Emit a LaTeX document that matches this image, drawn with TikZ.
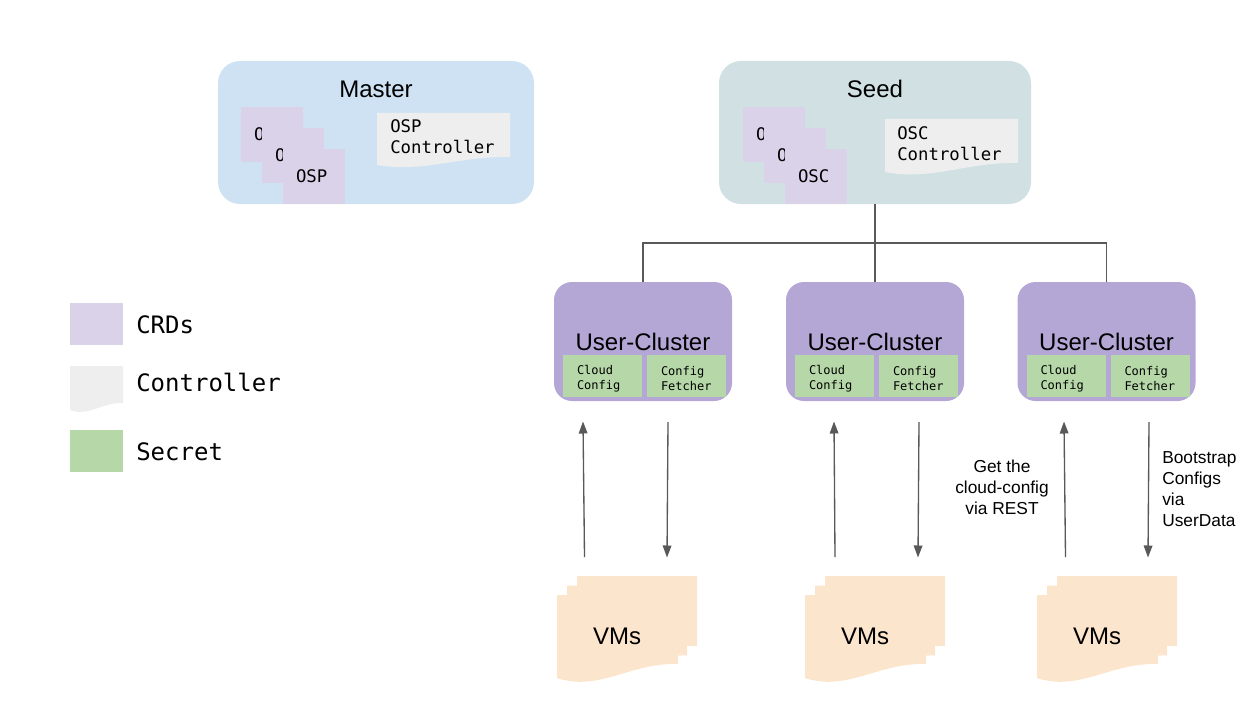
\documentclass[tikz,border=0pt]{standalone}
\usepackage{fontspec}
\setmainfont{Liberation Sans}
\newfontfamily\monof{DejaVu Sans Mono}
\usetikzlibrary{arrows.meta,calc}
\definecolor{masterbg}{HTML}{CFE2F3}
\definecolor{seedbg}{HTML}{D0E0E3}
\definecolor{crd}{HTML}{D9D2E9}
\definecolor{ctrl}{HTML}{EEEEEE}
\definecolor{ucbg}{HTML}{B4A7D6}
\definecolor{secret}{HTML}{B6D7A8}
\definecolor{vmbg}{HTML}{FCE5CD}
\definecolor{connc}{HTML}{595959}
% x y w hl hr fill  (document sheet with wavy bottom)
\newcommand\docsheet[6]{\fill[#6] (#1,#2) -- (#1+#3,#2) -- (#1+#3,#2+#5) .. controls (#1+0.6*#3,#2+1.1*#5-0.1*#4) and (#1+0.35*#3,#2+2*#4-#5) .. (#1,#2+#4) -- cycle;}
\begin{document}
\begin{tikzpicture}[x=0.75pt,y=-0.75pt,
  bigbox/.style={rectangle, rounded corners=16.5pt, inner sep=0pt, minimum width=#1, minimum height=107.25pt},
  ucbox/.style={rectangle, rounded corners=13.5pt, fill=ucbg, inner sep=0pt, minimum width=133.5pt, minimum height=89.25pt},
  mainlbl/.style={font=\fontsize{18}{21}\selectfont, inner sep=0pt},
  crdbox/.style={rectangle, fill=crd, minimum width=46.5pt, minimum height=41.25pt, inner xsep=9.75pt, inner ysep=0pt, text width=27pt, align=left, font=\monof\fontsize{13}{15.75}\selectfont},
  ctrltxt/.style={anchor=west, inner sep=0pt, align=left, font=\monof\fontsize{13}{15.75}\selectfont},
  secretbox/.style={rectangle, fill=secret, minimum width=59.25pt, minimum height=31.5pt, inner sep=0pt},
  secrettxt/.style={inner xsep=10.5pt, inner ysep=0pt, text width=38.25pt, align=left, font=\monof\fontsize{9}{11.25}\selectfont},
  legtxt/.style={anchor=west, inner sep=0pt, font=\monof\fontsize{18}{21}\selectfont},
  annot/.style={inner sep=0pt, font=\fontsize{13}{15.6}\selectfont},
  conn/.style={draw=connc, line width=1pt},
  arr/.style={draw=connc, line width=1pt, -{Triangle[length=9pt,width=6.5pt]}, fill=connc}
]
\useasboundingbox (0,0) rectangle (1255,706);

% ---------- Master ----------
\node[bigbox=237pt, fill=masterbg] (master) at (376,132.5) {};
\node[mainlbl] (masterlbl) at (376,89) {Master};
\node[crdbox] (mcrd1) at (272,134.5) {O};
\node[crdbox] (mcrd2) at (293,155.5) {O};
\node[crdbox] (mcrd3) at (314,176.5) {OSP};
\docsheet{377}{113}{133}{52}{44}{ctrl}
\node[ctrltxt] (ospc) at (390,136.5) {OSP\\Controller};

% ---------- Seed ----------
\node[bigbox=234pt, fill=seedbg] (seed) at (875,132.5) {};
\node[mainlbl] (seedlbl) at (875,89) {Seed};
\node[crdbox] (scrd1) at (774,134.5) {O};
\node[crdbox] (scrd2) at (795,155.5) {O};
\node[crdbox] (scrd3) at (816,176.5) {OSC};
\docsheet{885}{119}{133}{53}{44}{ctrl}
\node[ctrltxt] (oscc) at (897,143.5) {OSC\\Controller};

% ---------- User clusters ----------
\node[ucbox] (uc1) at (643,341.5) {};
\node[ucbox] (uc2) at (875,341.5) {};
\node[ucbox] (uc3) at (1106.5,341.5) {};

\coordinate (bus) at (875,243);
\draw[conn] (seed.south) -- (bus) -- (uc2.north);
\draw[conn] (bus) -| (uc1.north);
\draw[conn] (bus) -| (uc3.north);

\foreach \n/\cx in {1/643, 2/875, 3/1106.5} {
  \node[mainlbl] (uclbl\n) at (\cx,342) {User-Cluster};
  \node[secretbox] (cc\n) at (\cx-40.5,376) {};
  \node[secretbox] (cf\n) at (\cx+43.5,376) {};
  \node[secrettxt] (cct\n) at ($(cc\n.center)+(0,2.5)$) {Cloud\\Config};
  \node[secrettxt] (cft\n) at ($(cf\n.center)+(0,2.5)$) {Config\\Fetcher};
}

% ---------- VMs ----------
\foreach \n/\lx in {1/557, 2/805, 3/1037} {
  \docsheet{\lx+20}{576}{120}{83}{70}{vmbg}
  \docsheet{\lx+10}{585.5}{120}{83}{70}{vmbg}
  \docsheet{\lx}{595}{121}{83}{69}{vmbg}
  \node[mainlbl] (vm\n) at (\lx+60,636) {VMs};
}

% ---------- Arrows ----------
\coordinate (u1s) at (584.5,557); \coordinate (u1e) at (583,421.5);
\coordinate (d1s) at (668,422);   \coordinate (d1e) at (667,557.5);
\coordinate (u2s) at (835,557);   \coordinate (u2e) at (834,421.5);
\coordinate (d2s) at (919,422);   \coordinate (d2e) at (918,557.5);
\coordinate (u3s) at (1065.5,557);\coordinate (u3e) at (1064,421.5);
\coordinate (d3s) at (1149,422);  \coordinate (d3e) at (1148,557.5);
\foreach \n in {1,2,3} {
  \draw[arr] (u\n s) -- (u\n e);
  \draw[arr] (d\n s) -- (d\n e);
}

\node[annot, align=center] (restlbl) at (1002,487) {Get the\\cloud-config\\via REST};
\node[annot, align=left, anchor=west] (bootlbl) at (1162,489) {Bootstrap\\Configs\\via\\UserData};

% ---------- Legend ----------
\node[rectangle, fill=crd, minimum width=39.75pt, minimum height=31.5pt, inner sep=0pt] (legcrd) at (96.5,324) {};
\docsheet{70}{366}{53}{44}{37}{ctrl}
\node[rectangle, fill=secret, minimum width=39.75pt, minimum height=31.5pt, inner sep=0pt] (legsec) at (96.5,451) {};
\node[legtxt] (legcrdt) at (136,325) {CRDs};
\node[legtxt] (legctrlt) at (136,382) {Controller};
\node[legtxt] (legsect) at (136,452) {Secret};
\end{tikzpicture}
\end{document}
